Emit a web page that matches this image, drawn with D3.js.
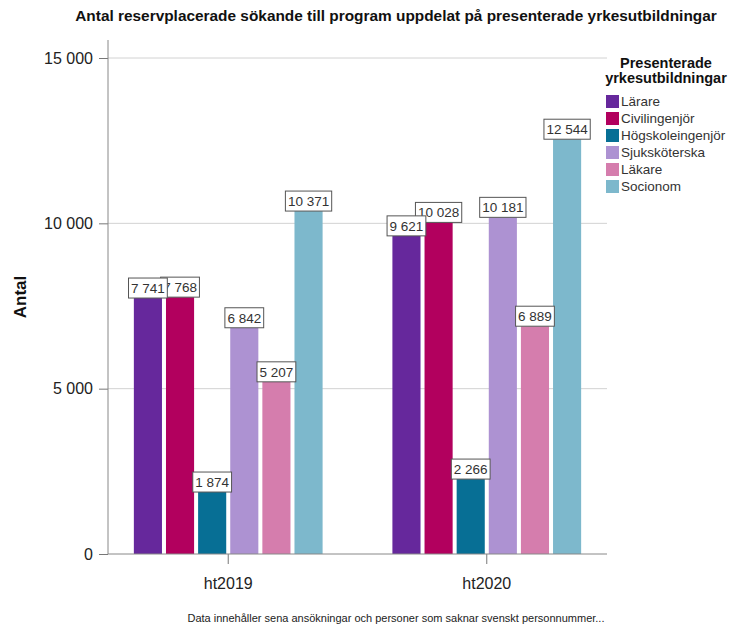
<!DOCTYPE html>
<html>
<head>
<meta charset="utf-8">
<script src="https://cdn.jsdelivr.net/npm/d3@7"></script>
<style>
  body { margin: 0; background: #fff; }
  svg { display: block; font-family: "Liberation Sans", Arial, sans-serif; }
</style>
</head>
<body>
<div id="chart"></div>
<script>
// ---------------------------------------------------------
// data
// ---------------------------------------------------------
const terms = ["ht2019", "ht2020"];
const programs = ["Lärare", "Civilingenjör", "Högskoleingenjör", "Sjuksköterska", "Läkare", "Socionom"];
const values2019 = [7741, 7768, 1874, 6842, 5207, 10371];
const values2020 = [9621, 10028, 2266, 10181, 6889, 12544];
const yTicks = [0, 5000, 10000, 15000];
const colors = ["#66289c", "#b2005e", "#076f95", "#ad92d2", "#d57dad", "#7db8cc"];

const rows = [];
terms.forEach((t, i) => {
  const vals = i === 0 ? values2019 : values2020;
  programs.forEach((p, j) => rows.push({ term: t, program: p, value: vals[j] }));
});

// ---------------------------------------------------------
// svg + scales
// ---------------------------------------------------------
const width = 749, height = 626;
const svg = d3.select("#chart").append("svg")
    .attr("width", width)
    .attr("height", height);

const plotLeft = 108, plotRight = 607, plotTop = 58, plotBottom = 554;

const x0 = d3.scaleBand()
    .domain(terms)
    .range([plotLeft, plotRight])
    .paddingInner(0.27)
    .paddingOuter(0.1);

const x1 = d3.scaleBand()
    .domain(programs)
    .range([0, x0.bandwidth()])
    .paddingInner(0.125);

const y = d3.scaleLinear()
    .domain([0, 15000])
    .range([plotBottom, plotTop]);

const color = d3.scaleOrdinal().domain(programs).range(colors);

const sv = d3.formatLocale({ decimal: ",", thousands: " ", grouping: [3], currency: ["", " kr"] });
const fmt = sv.format(",d");

// ---------------------------------------------------------
// title
// ---------------------------------------------------------
svg.append("text")
    .attr("x", 396)
    .attr("y", 21)
    .attr("text-anchor", "middle")
    .style("font-size", "15.4px")
    .style("font-weight", "bold")
    .attr("fill", "#111")
    .text("Antal reservplacerade sökande till program uppdelat på presenterade yrkesutbildningar");

// ---------------------------------------------------------
// grid + axes
// ---------------------------------------------------------
svg.append("g")
  .selectAll("line")
  .data(yTicks.filter(d => d > 0))
  .join("line")
    .attr("x1", plotLeft).attr("x2", plotRight)
    .attr("y1", d => y(d)).attr("y2", d => y(d))
    .attr("stroke", "#d2d2d2")
    .attr("stroke-width", 1);

const yAxis = svg.append("g")
    .attr("transform", `translate(${plotLeft},0)`)
    .call(d3.axisLeft(y).tickValues(yTicks).tickFormat(fmt).tickSize(9).tickPadding(6));
yAxis.select(".domain").remove();
yAxis.selectAll("line").attr("stroke", "#777");
yAxis.selectAll("text")
    .style("font-size", "16px")
    .attr("fill", "#222")
    .style("font-family", "\"Liberation Sans\", Arial, sans-serif");

svg.append("line")
    .attr("x1", plotLeft).attr("x2", plotLeft)
    .attr("y1", 40).attr("y2", plotBottom)
    .attr("stroke", "#888");

svg.append("text")
    .attr("transform", "translate(26,297) rotate(-90)")
    .attr("text-anchor", "middle")
    .style("font-size", "17px")
    .style("font-weight", "bold")
    .attr("fill", "#111")
    .text("Antal");

// ---------------------------------------------------------
// bars
// ---------------------------------------------------------
svg.append("g")
  .selectAll("rect")
  .data(rows)
  .join("rect")
    .attr("x", d => x0(d.term) + x1(d.program))
    .attr("y", d => y(d.value))
    .attr("width", x1.bandwidth())
    .attr("height", d => y(0) - y(d.value))
    .attr("fill", d => color(d.program));

// baseline + x axis
const xAxis = svg.append("g")
    .attr("transform", `translate(0,${plotBottom})`)
    .call(d3.axisBottom(x0).tickSize(10).tickPadding(14));
xAxis.select(".domain").remove();
xAxis.selectAll("line").attr("stroke", "#777");
xAxis.selectAll("text")
    .style("font-size", "16px")
    .attr("fill", "#222")
    .style("font-family", "\"Liberation Sans\", Arial, sans-serif");

svg.append("line")
    .attr("x1", plotLeft).attr("x2", plotRight)
    .attr("y1", plotBottom).attr("y2", plotBottom)
    .attr("stroke", "#888");

// ---------------------------------------------------------
// value labels (first series drawn last so it sits on top)
// ---------------------------------------------------------
const labels = svg.append("g")
  .selectAll("g")
  .data(rows.slice().reverse())
  .join("g")
    .attr("transform", d => `translate(${x0(d.term) + x1(d.program) + x1.bandwidth() / 2},${y(d.value)})`);

labels.append("text")
    .attr("y", -5)
    .attr("text-anchor", "middle")
    .style("font-size", "13.5px")
    .attr("fill", "#333")
    .text(d => fmt(d.value));

labels.each(function () {
  const g = d3.select(this);
  const w = g.select("text").node().getComputedTextLength();
  g.insert("rect", "text")
    .attr("x", -w / 2 - 2.5)
    .attr("y", -20)
    .attr("width", w + 5)
    .attr("height", 20)
    .attr("fill", "#fff")
    .attr("stroke", "#555")
    .attr("stroke-width", 1);
});

// ---------------------------------------------------------
// legend
// ---------------------------------------------------------
const legend = svg.append("g");
legend.append("text")
    .attr("x", 666).attr("y", 68)
    .attr("text-anchor", "middle")
    .style("font-size", "14.5px")
    .style("font-weight", "bold")
    .attr("fill", "#111")
    .text("Presenterade");
legend.append("text")
    .attr("x", 666).attr("y", 83)
    .attr("text-anchor", "middle")
    .style("font-size", "14.5px")
    .style("font-weight", "bold")
    .attr("fill", "#111")
    .text("yrkesutbildningar");

const items = legend.selectAll("g.item")
  .data(programs)
  .join("g")
    .attr("class", "item")
    .attr("transform", (d, i) => `translate(606,${95 + i * 17})`);
items.append("rect")
    .attr("width", 13).attr("height", 13)
    .attr("fill", d => color(d));
items.append("text")
    .attr("x", 15).attr("y", 11)
    .style("font-size", "13.5px")
    .attr("fill", "#333")
    .text(d => d);

// ---------------------------------------------------------
// footnote
// ---------------------------------------------------------
svg.append("text")
    .attr("x", 396).attr("y", 622)
    .attr("text-anchor", "middle")
    .style("font-size", "11px")
    .attr("fill", "#222")
    .text("Data innehåller sena ansökningar och personer som saknar svenskt personnummer...");
</script>
</body>
</html>
